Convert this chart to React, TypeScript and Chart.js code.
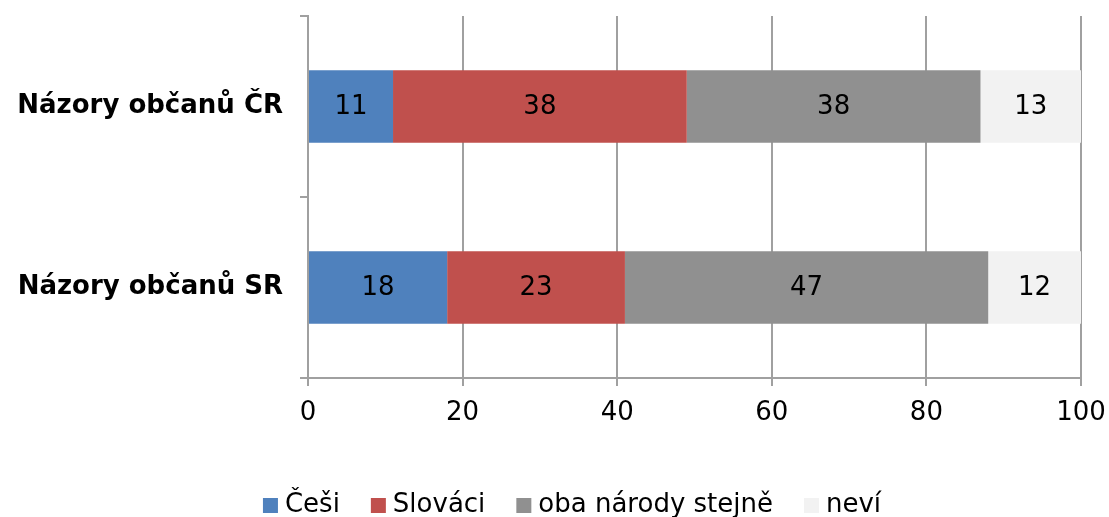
import React, { useEffect, useRef } from "react";
import { Chart, registerables } from "chart.js";

Chart.register(...registerables);

const categories = ["Názory občanů ČR", "Názory občanů SR"];
const seriesNames = ["Češi", "Slováci", "oba národy stejně", "neví"];
const cesi = [11, 18];
const slovaci = [38, 23];
const oba = [38, 47];
const nevi = [13, 12];
const seriesColors = ["#4F81BD", "#C0504D", "#909090", "#F2F2F2"];
const xTicks = [0, 20, 40, 60, 80, 100];

const FONT = "'DejaVu Sans', Verdana, sans-serif";
const GRID = "#A0A0A0";

const dataLabels = {
  id: "dataLabels",
  afterDatasetsDraw(chart: any) {
    const ctx = chart.ctx;
    ctx.save();
    ctx.font = `26px ${FONT}`;
    ctx.fillStyle = "#000";
    ctx.textAlign = "center";
    ctx.textBaseline = "middle";
    chart.data.datasets.forEach((ds: any, i: number) => {
      const meta = chart.getDatasetMeta(i);
      meta.data.forEach((bar: any, j: number) => {
        const x = (bar.x + bar.base) / 2;
        ctx.fillText(String(ds.data[j]), x, bar.y + 1);
      });
    });
    ctx.restore();
  },
};

const customLegend = {
  id: "customLegend",
  afterDraw(chart: any) {
    const ctx = chart.ctx;
    ctx.save();
    ctx.font = `26px ${FONT}`;
    ctx.textBaseline = "middle";
    ctx.textAlign = "left";
    const box = 15;
    const gapText = 7;
    const gapItem = 31;
    const widths = chart.data.datasets.map((ds: any) => ctx.measureText(ds.label).width);
    const total =
      widths.reduce((a: number, w: number) => a + box + gapText + w, 0) +
      gapItem * (widths.length - 1);
    let x = 572 - total / 2;
    const cy = 505;
    chart.data.datasets.forEach((ds: any, i: number) => {
      ctx.fillStyle = ds.backgroundColor;
      ctx.fillRect(x, cy - 7, box, box);
      x += box + gapText;
      ctx.fillStyle = "#000";
      ctx.fillText(ds.label, x, cy);
      x += widths[i] + gapItem;
    });
    ctx.restore();
  },
};

export default function App() {
  const ref = useRef<HTMLCanvasElement | null>(null);
  useEffect(() => {
    if (!ref.current) return;
    const values = [cesi, slovaci, oba, nevi];
    const chart = new Chart(ref.current, {
      type: "bar",
      data: {
        labels: categories,
        datasets: seriesNames.map((n, i) => ({
          label: n,
          data: values[i],
          backgroundColor: seriesColors[i],
          borderWidth: 0,
          barPercentage: 0.4,
          categoryPercentage: 1,
        })),
      },
      options: {
        indexAxis: "y",
        animation: false,
        responsive: false,
        layout: { padding: { top: 16, right: 28, left: 0, bottom: 0 } },
        scales: {
          x: {
            stacked: true,
            min: 0,
            max: 100,
            afterBuildTicks: (s: any) => {
              s.ticks = xTicks.map((v) => ({ value: v }));
            },
            afterFit: (s: any) => {
              s.height = 139;
              s.paddingLeft = 0;
              s.paddingRight = 0;
            },
            grid: {
              color: GRID,
              lineWidth: 2,
              tickLength: 8,
              drawTicks: true,
            },
            border: { color: GRID, width: 2 },
            ticks: {
              color: "#000",
              font: { family: FONT, size: 26 },
              padding: 12,
              maxRotation: 0,
            },
          },
          y: {
            stacked: true,
            afterFit: (s: any) => {
              s.width = 308;
              s.paddingTop = 0;
              s.paddingBottom = 0;
            },
            grid: {
              display: true,
              drawOnChartArea: false,
              color: GRID,
              lineWidth: 2,
              tickLength: 8,
              offset: true,
            },
            border: { color: GRID, width: 2 },
            ticks: {
              color: "#000",
              font: { family: FONT, size: 26, weight: "bold" },
              padding: 17,
            },
          },
        },
        plugins: {
          legend: { display: false },
          tooltip: { enabled: false },
        },
      },
      plugins: [dataLabels, customLegend],
    });
    return () => chart.destroy();
  }, []);
  return (
    <div style={{ position: "fixed", left: 0, top: 0, width: 1109, height: 517 }}>
      <canvas ref={ref} width={1109} height={517} />
    </div>
  );
}
